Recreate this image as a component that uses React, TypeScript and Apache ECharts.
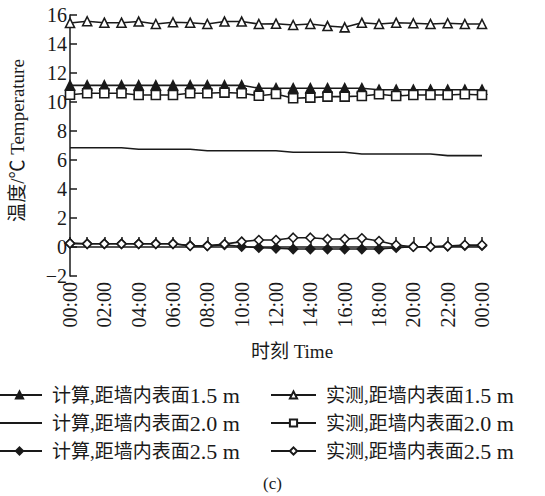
import React, { useEffect, useRef } from 'react';
import * as echarts from 'echarts';

const hours = [0, 1, 2, 3, 4, 5, 6, 7, 8, 9, 10, 11, 12, 13, 14, 15, 16, 17, 18, 19, 20, 21, 22, 23, 24];
const hourLabels = ['00:00', '', '02:00', '', '04:00', '', '06:00', '', '08:00', '', '10:00', '', '12:00', '', '14:00', '', '16:00', '', '18:00', '', '20:00', '', '22:00', '', '00:00'];

const calc15 = [11.15, 11.15, 11.15, 11.15, 11.15, 11.15, 11.15, 11.15, 11.15, 11.15, 11.15, 10.95, 10.95, 10.95, 10.95, 10.95, 10.95, 10.95, 10.85, 10.85, 10.85, 10.85, 10.85, 10.85, 10.85];
const meas15 = [15.45, 15.57, 15.47, 15.47, 15.55, 15.38, 15.5, 15.47, 15.38, 15.55, 15.55, 15.38, 15.4, 15.31, 15.38, 15.24, 15.15, 15.47, 15.38, 15.47, 15.43, 15.38, 15.43, 15.38, 15.38];
const calc20 = [6.85, 6.85, 6.85, 6.85, 6.74, 6.74, 6.74, 6.74, 6.64, 6.64, 6.64, 6.64, 6.64, 6.53, 6.53, 6.53, 6.53, 6.41, 6.41, 6.41, 6.41, 6.41, 6.3, 6.3, 6.3];
const meas20 = [10.5, 10.6, 10.6, 10.6, 10.48, 10.48, 10.48, 10.6, 10.6, 10.65, 10.6, 10.43, 10.55, 10.26, 10.3, 10.37, 10.37, 10.41, 10.53, 10.41, 10.48, 10.48, 10.48, 10.53, 10.48];
const calc25 = [0.25, 0.22, 0.22, 0.22, 0.22, 0.22, 0.22, 0.1, 0.08, 0.15, 0.03, -0.05, -0.09, -0.14, -0.14, -0.14, -0.14, -0.14, -0.14, -0.05, 0.02, 0.02, 0.05, 0.09, 0.09];
const meas25 = [0.25, 0.22, 0.22, 0.22, 0.22, 0.22, 0.22, 0.08, 0.08, 0.2, 0.37, 0.48, 0.48, 0.64, 0.64, 0.55, 0.55, 0.6, 0.41, 0.14, 0.02, 0.02, 0.07, 0.14, 0.14];

const calcNames = ['计算,距墙内表面1.5 m', '计算,距墙内表面2.0 m', '计算,距墙内表面2.5 m'];
const measNames = ['实测,距墙内表面1.5 m', '实测,距墙内表面2.0 m', '实测,距墙内表面2.5 m'];

const FONT = "'Liberation Serif', 'Times New Roman', 'Noto Sans CJK SC', serif";
const INK = '#1a1a1a';

function pairs(vals: number[]) {
  return hours.map((h, i) => [h, vals[i]]);
}

function mkSeries(name: string, vals: number[], symbol: string, filled: boolean, z: number) {
  return {
    name,
    type: 'line',
    data: pairs(vals),
    symbol,
    showSymbol: symbol !== 'none',
    symbolSize: 9,
    z,
    lineStyle: { color: INK, width: 1.6 },
    itemStyle: { color: filled ? INK : '#ffffff', borderColor: INK, borderWidth: 1.6 },
    emphasis: { disabled: true },
  };
}

function legendFormatter(name: string) {
  const k = name.indexOf('面') + 1;
  return '{a|' + name.slice(0, k) + '}{b|' + name.slice(k) + '}';
}

export default function App() {
  const ref = useRef<HTMLDivElement>(null);
  useEffect(() => {
    if (!ref.current) return;
    const chart = echarts.init(ref.current, null, { renderer: 'svg' });
    const legendBase = {
      orient: 'vertical',
      top: 384,
      padding: 0,
      itemWidth: 45,
      itemHeight: 9,
      itemGap: 6,
      formatter: legendFormatter,
      textStyle: {
        fontSize: 19,
        fontFamily: FONT,
        color: INK,
        padding: [0, 0, 0, 5],
        rich: {
          a: { fontSize: 19, fontFamily: FONT, color: INK },
          b: { fontSize: 22, fontFamily: FONT, color: INK },
        },
      },
      selectedMode: false,
    };
    chart.setOption({
      animation: false,
      backgroundColor: '#ffffff',
      title: {
        text: '(c)',
        left: 'center',
        top: 470,
        textStyle: { fontSize: 17, fontWeight: 'normal', fontFamily: FONT, color: INK },
      },
      legend: [
        {
          ...legendBase,
          left: -4,
          data: [
            { name: calcNames[0] },
            { name: calcNames[1], itemStyle: { color: 'rgba(0,0,0,0)', borderWidth: 0, opacity: 0 } },
            { name: calcNames[2] },
          ],
        },
        { ...legendBase, left: 270, data: measNames.map((n) => ({ name: n })) },
      ],
      grid: { left: 62, right: 63, top: 15, bottom: 220 },
      xAxis: {
        type: 'value',
        min: 0,
        max: 24,
        interval: 1,
        name: '时刻 Time',
        nameLocation: 'middle',
        nameGap: 66,
        nameTextStyle: { fontSize: 19, fontFamily: FONT, color: INK, padding: [0, 0, 0, 32] },
        axisLine: { show: true, lineStyle: { color: INK, width: 1.5 } },
        axisTick: { show: true, inside: true, length: 10, lineStyle: { color: INK, width: 1.5 } },
        axisLabel: {
          rotate: 90,
          margin: 6,
          fontSize: 20,
          fontFamily: FONT,
          color: INK,
          formatter: (v: number) => hourLabels[Math.round(v)] ?? '',
        },
        splitLine: { show: false },
      },
      yAxis: {
        type: 'value',
        min: -2,
        max: 16,
        interval: 2,
        name: '温度/℃ Temperature',
        nameLocation: 'middle',
        nameGap: 43,
        nameTextStyle: { fontSize: 19, fontFamily: FONT, color: INK, padding: [0, 0, 0, 10] },
        axisLine: { show: true, lineStyle: { color: INK, width: 1.5 } },
        axisTick: { show: true, inside: true, length: 7, lineStyle: { color: INK, width: 1.5 } },
        axisLabel: {
          margin: 3,
          fontSize: 20,
          fontFamily: FONT,
          color: INK,
          formatter: (v: number) => (v < 0 ? '\u2212' + Math.abs(v) : String(v)),
        },
        splitLine: { show: false },
      },
      series: [
        mkSeries(calcNames[0], calc15, 'triangle', true, 3),
        mkSeries(calcNames[1], calc20, 'none', true, 3),
        mkSeries(calcNames[2], calc25, 'diamond', true, 3),
        mkSeries(measNames[0], meas15, 'triangle', false, 4),
        mkSeries(measNames[1], meas20, 'rect', false, 4),
        mkSeries(measNames[2], meas25, 'diamond', false, 4),
      ],
    });
    return () => chart.dispose();
  }, []);
  return <div ref={ref} style={{ position: 'fixed', left: 0, top: 0, width: 545, height: 496 }} />;
}
